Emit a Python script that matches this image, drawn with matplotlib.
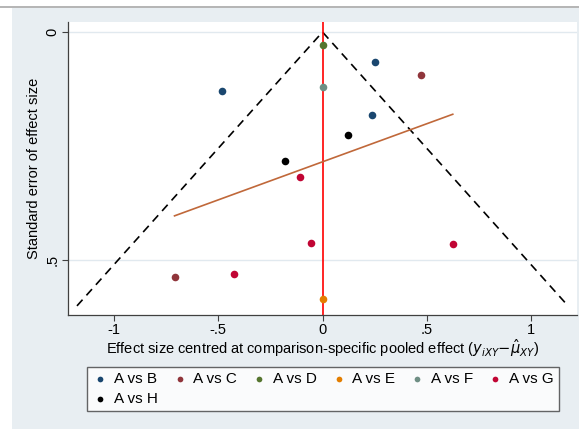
import numpy as np
import matplotlib.pyplot as plt
from matplotlib.patches import Rectangle
from matplotlib.lines import Line2D

plt.rcParams['font.family'] = ['Liberation Sans', 'DejaVu Sans']

# datos: efecto centrado (x) y error estandar (se)
comparisons = ["A vs B", "A vs C", "A vs D", "A vs E", "A vs F", "A vs G", "A vs H"]
colors = ["#1a476f", "#90353b", "#55752f", "#e37e00", "#6e8e84", "#c10534", "#000000"]
x_b = [-0.482, 0.250, 0.239]
se_b = [0.129, 0.065, 0.181]
x_c = [0.474, -0.710]
se_c = [0.095, 0.538]
x_d = [0.0]
se_d = [0.029]
x_e = [0.0]
se_e = [0.586]
x_f = [0.0]
se_f = [0.120]
x_g = [-0.106, -0.056, 0.625, -0.426]
se_g = [0.318, 0.462, 0.466, 0.532]
x_h = [-0.181, 0.120]
se_h = [0.282, 0.227]

xs = [x_b, x_c, x_d, x_e, x_f, x_g, x_h]
ses = [se_b, se_c, se_d, se_e, se_f, se_g, se_h]

fs = 10.5

fig = plt.figure(figsize=(5.79, 4.29), dpi=100)
fig.patch.set_facecolor("white")

# fondo tipo Stata
bg = Rectangle((12 / 579, 0), 1, 1 - 8 / 429, transform=fig.transFigure,
               facecolor="#e8eef2", edgecolor="none", zorder=-10)
fig.patches.append(bg)
fig.add_artist(Line2D([0, 1], [1 - 7 / 429, 1 - 7 / 429], transform=fig.transFigure,
                      color="#a8a8a8", lw=1.2))

ax = fig.add_axes([68 / 579, (429 - 315) / 429, (577 - 68) / 579, (315 - 22) / 429])
ax.set_facecolor("white")

# lineas del embudo
se_max = 0.601
ax.plot([-1.96 * se_max, 0, 1.96 * se_max], [se_max, 0, se_max], color="black",
        lw=1.2, dashes=(5, 3.5), zorder=2)
ax.axvline(0, color="red", lw=1.2, zorder=2)

# grid
for g in [0, 0.5]:
    ax.axhline(g, color="#e1e9ef", lw=1.0, zorder=0)

handles = []
for name, c, x, s in zip(comparisons, colors, xs, ses):
    h = ax.scatter(x, s, s=30, color=c, label=name, zorder=4, linewidths=0)
    handles.append(h)

# recta de regresion
all_x = np.concatenate([np.array(v) for v in xs])
all_se = np.concatenate([np.array(v) for v in ses])
b, a = np.polyfit(all_x, all_se, 1)
xl = np.array([all_x.min(), all_x.max()])
ax.plot(xl, a + b * xl, color="#c0683a", lw=1.2, zorder=3)

ax.set_xlim(-1.221, 1.221)
ax.set_ylim(0.621, -0.022)
ax.set_xticks([-1, -0.5, 0, 0.5, 1])
ax.set_xticklabels(["-1", "-.5", "0", ".5", "1"], fontsize=fs)
ax.set_yticks([0, 0.5])
ax.set_yticklabels(["0", ".5"], fontsize=fs, rotation=90, va="center")
ax.tick_params(direction="out", length=4, color="#404040", width=0.8, pad=2)

for sp in ["top", "right"]:
    ax.spines[sp].set_visible(False)
for sp in ["left", "bottom"]:
    ax.spines[sp].set_color("#404040")
    ax.spines[sp].set_linewidth(0.9)

ax.set_xlabel(r"Effect size centred at comparison-specific pooled effect ($y_{iXY}$$-\hat{\mu}_{XY}$)",
              fontsize=fs, labelpad=0)
ax.set_ylabel("Standard error of effect size", fontsize=fs, labelpad=3)

# orden para que la leyenda se llene por filas
order = [0, 6, 1, 2, 3, 4, 5]
leg = fig.legend([handles[i] for i in order], [comparisons[i] for i in order],
                 loc="lower left", ncol=6, mode="expand",
                 bbox_to_anchor=(87 / 579, 1 - 411 / 429, (559 - 87) / 579, (411 - 363) / 429),
                 fontsize=11, frameon=True, fancybox=False, edgecolor="#404040",
                 handletextpad=0.4, borderaxespad=0, markerscale=0.75,
                 handlelength=1.0, labelspacing=0.35, borderpad=0.35)
leg.get_frame().set_linewidth(1.0)

fig.savefig("out.png", dpi=100, facecolor=fig.get_facecolor())
